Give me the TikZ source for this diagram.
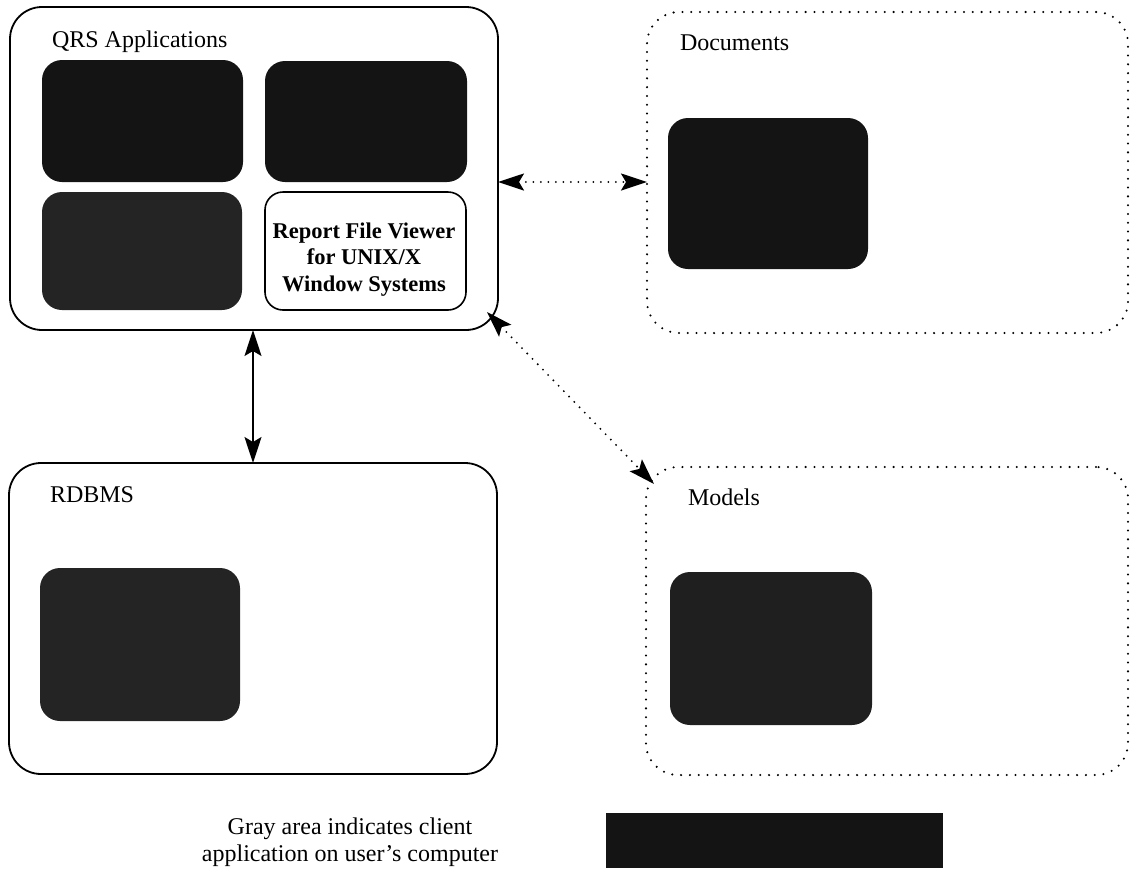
\documentclass[tikz,border=0pt]{standalone}
\usepackage{fontspec}
\setmainfont{Liberation Serif}
\usetikzlibrary{arrows.meta,calc}
\begin{document}
\begin{tikzpicture}[x=1pt,y=-1pt,
  every node/.style={font=\fontsize{24}{26.5}\selectfont, inner sep=0pt, outer sep=0pt},
  outerbox/.style={draw, line width=1.8pt, rounded corners=32pt, rectangle},
  dotbox/.style={draw, line width=2.3pt, rounded corners=32pt, rectangle, dash pattern=on 0pt off 8.8pt, line cap=round},
  darkbox/.style={fill=black!92, draw=none, rounded corners=20pt, rectangle},
  whitebox/.style={draw, line width=1.6pt, fill=white, rounded corners=18pt, rectangle},
  boxtext/.style={align=center, font=\fontsize{22.5}{26.5}\selectfont\bfseries},
  title/.style={anchor=base west},
  solidarrow/.style={line width=1.6pt, {Stealth[length=26pt,width=17pt,inset=5pt]}-{Stealth[length=26pt,width=17pt,inset=5pt]}},
  dotarrow/.style={line width=2.1pt, dash pattern=on 0pt off 7.5pt, line cap=round, {Stealth[length=26pt,width=17pt,inset=5pt]}-{Stealth[length=26pt,width=17pt,inset=5pt]}}
]
\useasboundingbox (0,0) rectangle (1130,884);

% QRS Applications
\node[outerbox, minimum width=488pt, minimum height=323pt] (qrs) at (254,168.5) {};
\node[title] (qrst) at (52,47) {QRS Applications};
\node[darkbox, minimum width=201pt, minimum height=122pt] (qa) at (142.5,121) {};
\node[darkbox, minimum width=202pt, minimum height=121pt] (qb) at (366,121.5) {};
\node[darkbox, fill=black!86, minimum width=200pt, minimum height=118pt] (qc) at (142,251) {};
\node[whitebox, minimum width=201pt, minimum height=118pt] (qd) at (365.5,251) {};
\node[boxtext, anchor=base] (qdt) at (364,291) {Report File Viewer\\for UNIX/X\\Window Systems};

% Documents
\node[dotbox, minimum width=481pt, minimum height=321pt] (docs) at (887.5,172.5) {};
\node[title] (docst) at (680,50) {Documents};
\node[darkbox, minimum width=200pt, minimum height=151pt] (docin) at (768,193.5) {};

% Models
\node[dotbox, minimum width=482pt, minimum height=308pt] (models) at (887,621) {};
\node[title] (modelst) at (688,505) {Models};
\node[darkbox, fill=black!88, minimum width=202pt, minimum height=153pt] (modin) at (771,648.5) {};

% RDBMS
\node[outerbox, minimum width=488pt, minimum height=311pt] (rdbms) at (253,618.5) {};
\node[title] (rdbmst) at (50,502) {RDBMS};
\node[darkbox, fill=black!86, minimum width=200pt, minimum height=153pt] (rdin) at (140,644.5) {};

% Legend
\node[align=center, anchor=base] (legt) at (350,861) {Gray area indicates client\\application on user's computer};
\node[rectangle, fill=black!92, minimum width=337pt, minimum height=55pt] (legbox) at (774.5,840.5) {};

% Connectors
\coordinate (hy) at (0,182);
\draw[solidarrow] (qrs.south -| 253,0) -- (rdbms.north -| 253,0);
\draw[dotarrow] (qrs.east |- hy) -- (docs.west |- hy);
\coordinate (d1) at (487,312);
\coordinate (d2) at (654,484);
\draw[dotarrow] (d1) -- (d2);
\end{tikzpicture}
\end{document}
